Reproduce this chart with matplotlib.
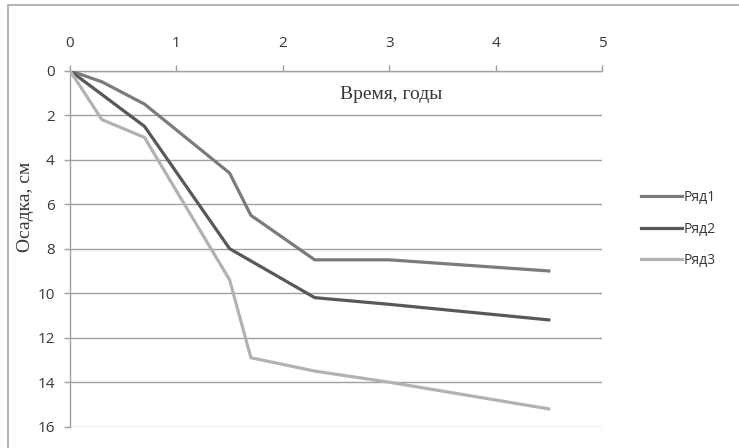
import matplotlib
matplotlib.use("Agg")
import matplotlib.pyplot as plt
from matplotlib.patches import Rectangle

# settlement vs time, three series
t1 = [0, 0.3, 0.7, 1.5, 1.7, 2.3, 3, 4.5]
s1 = [0, 0.5, 1.5, 4.6, 6.5, 8.5, 8.5, 9.0]
t2 = [0, 0.7, 1.5, 2.3, 3, 4.5]
s2 = [0, 2.5, 8.0, 10.2, 10.5, 11.2]
t3 = [0, 0.3, 0.7, 1.5, 1.7, 2.3, 3, 4.5]
s3 = [0, 2.2, 3.0, 9.4, 12.9, 13.5, 14.0, 15.2]
names = ["Ряд1", "Ряд2", "Ряд3"]
colors = ["#7b7b7b", "#585858", "#b2b2b2"]

xticks = [0, 1, 2, 3, 4, 5]
yticks = [0, 2, 4, 6, 8, 10, 12, 14, 16]

fig = plt.figure(figsize=(7.39, 4.48), dpi=100)
ax = fig.add_axes([70/739, 1-426.7/448, (602-70)/739, (426.7-70.7)/448])

# chart area frame (runs off the right and bottom edges)
fig.patches.append(Rectangle((8/739, -0.05), 1.05, 1-5/448+0.05,
                             transform=fig.transFigure, fill=False,
                             edgecolor="#a6a6a6", lw=1.2))

for t, s, c, n in zip([t1, t2, t3], [s1, s2, s3], colors, names):
    ax.plot(t, s, color=c, lw=2.3, label=n, solid_joinstyle="round", zorder=3)

ax.set_xlim(0, 5)
ax.set_ylim(16, 0)
ax.set_xticks(xticks)
ax.set_yticks(yticks)
ax.xaxis.tick_top()
ax.grid(axis="y", color="#a0a0a0", lw=1)
for sp in ["right", "bottom"]:
    ax.spines[sp].set_visible(False)
for sp in ["left", "top"]:
    ax.spines[sp].set_color("#a0a0a0")
    ax.spines[sp].set_linewidth(1)
ax.tick_params(colors="#a0a0a0", labelcolor="#383838", length=4, width=1,
               labelsize=11)
ax.tick_params(axis="x", pad=10)
ax.tick_params(axis="y", pad=7)
for lab in ax.get_xticklabels() + ax.get_yticklabels():
    lab.set_family("Open Sans")

ax.text(3.02, 1.05, "Время, годы", family="Liberation Serif", fontsize=14,
        color="#383838", ha="center", va="center")
fig.text(25/739, 1-207/448, "Осадка, см", family="Liberation Serif",
         fontsize=14, color="#383838", rotation=90, ha="center", va="center")

leg = fig.legend(loc="center left", bbox_to_anchor=(628/739, 1-229/448),
                 frameon=False, handlelength=3.0, handletextpad=0.1,
                 labelspacing=1.2, prop={"family": "Open Sans", "size": 10})
for txt in leg.get_texts():
    txt.set_color("#383838")

fig.savefig("out.png", dpi=100)
